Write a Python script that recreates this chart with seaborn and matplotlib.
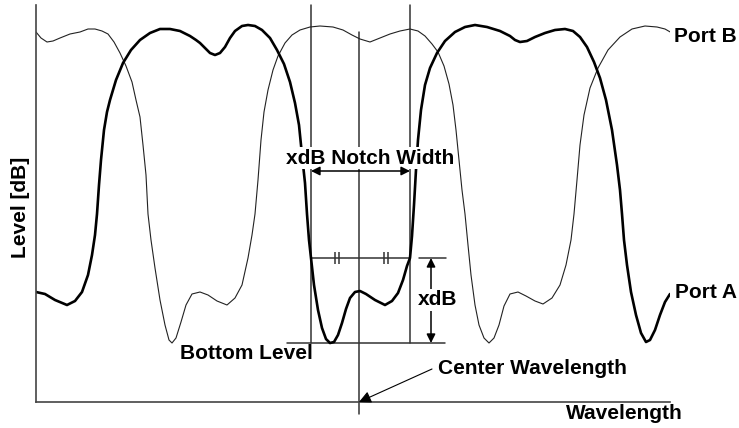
import matplotlib
matplotlib.use("Agg")
import matplotlib.pyplot as plt
import seaborn as sns
import pandas as pd

# schematic traces: wavelength (arb. units) and level (dB)
port_a_wl = [3.6, 4.5, 5.5, 6.7, 7.5, 8.2, 8.8, 9.2, 9.5, 9.7,
             9.9, 10.1, 10.4, 10.7, 11.0, 11.6, 12.3, 13.1, 14.0, 15.0,
             16.0, 17.0, 18.0, 19.0, 19.6, 20.0, 20.5, 21.0, 21.5, 22.0,
             22.5, 23.0, 23.5, 24.2, 24.8, 25.5, 26.2, 27.0, 27.7, 28.4,
             29.0, 29.5, 29.9, 30.2, 30.5, 30.7, 30.9, 31.1, 31.4, 31.8,
             32.2, 32.6, 33.0, 33.4, 33.8, 34.2, 34.6, 35.0, 35.5, 36.0,
             36.6, 37.5, 38.5, 39.2, 39.8, 40.3, 40.7, 41.0, 41.2, 41.4,
             41.6, 41.8, 42.1, 42.5, 43.0, 43.7, 44.5, 45.5, 46.5, 47.5,
             48.7, 50.0, 51.0, 51.5, 52.0, 52.7, 53.5, 54.5, 55.5, 56.5,
             57.3, 58.0, 58.7, 59.4, 60.0, 60.6, 61.2, 61.7, 62.0, 62.2,
             62.4, 62.7, 63.1, 63.6, 64.1, 64.6, 65.0, 65.5, 66.0, 66.5,
             67.0]
port_a_level = [-29.2, -29.4, -30.0, -30.5, -30.1, -29.2, -27.5, -25.5, -23.5, -21.4,
                -18.5, -16.0, -13.0, -11.2, -10.0, -8.0, -6.3, -5.0, -4.0, -3.3,
                -2.9, -2.9, -3.1, -3.6, -4.0, -4.3, -4.8, -5.3, -5.5, -5.3,
                -4.7, -3.8, -3.1, -2.6, -2.5, -2.6, -3.0, -3.8, -5.0, -6.4,
                -8.2, -10.3, -12.5, -15.5, -18.3, -21.4, -24.0, -25.8, -28.5, -31.0,
                -32.8, -33.9, -34.3, -34.2, -33.5, -32.3, -30.9, -29.8, -29.2, -29.1,
                -29.4, -30.0, -30.5, -30.1, -29.3, -28.0, -26.6, -25.8, -23.6, -20.5,
                -17.0, -14.0, -11.0, -8.5, -6.8, -5.3, -4.1, -3.2, -2.7, -2.5,
                -2.7, -3.1, -3.6, -4.0, -4.2, -4.1, -3.7, -3.3, -3.0, -2.9,
                -3.1, -3.7, -4.7, -6.2, -7.8, -10.0, -13.0, -16.5, -19.0, -21.4,
                -24.0, -26.5, -29.2, -31.5, -33.3, -34.2, -34.0, -33.0, -31.5, -30.2,
                -29.4]

port_b_wl = [3.6, 4.1, 4.7, 5.3, 6.0, 7.0, 8.0, 8.8, 9.5, 10.2,
             10.8, 11.4, 12.0, 12.6, 13.2, 13.6, 14.0, 14.3, 14.6, 14.8,
             15.1, 15.5, 16.0, 16.5, 16.9, 17.2, 17.6, 18.1, 18.6, 19.2,
             20.0, 20.8, 21.7, 22.7, 23.5, 24.2, 24.8, 25.2, 25.5, 25.8,
             26.1, 26.4, 26.8, 27.3, 27.8, 28.5, 29.2, 30.0, 31.0, 32.0,
             33.3, 34.3, 35.2, 36.0, 37.0, 38.0, 39.0, 40.0, 41.0, 41.8,
             42.5, 43.2, 43.8, 44.4, 44.9, 45.3, 45.6, 45.9, 46.2, 46.5,
             46.8, 47.1, 47.5, 47.9, 48.4, 48.9, 49.4, 49.9, 50.4, 51.0,
             51.8, 52.6, 53.5, 54.3, 55.2, 56.0, 56.6, 57.1, 57.4, 57.7,
             58.0, 58.4, 59.0, 59.8, 60.8, 62.0, 63.2, 64.5, 65.7, 66.5,
             67.2]
port_b_level = [-3.2, -3.8, -4.2, -4.1, -3.8, -3.4, -3.2, -2.9, -2.9, -3.1,
                -3.4, -4.2, -5.3, -6.6, -8.2, -10.0, -11.7, -14.5, -17.5, -21.4,
                -24.0, -26.8, -30.0, -32.5, -34.0, -34.3, -33.8, -32.2, -30.5, -29.4,
                -29.2, -29.5, -30.1, -30.5, -29.8, -28.5, -25.8, -23.5, -21.4, -18.0,
                -14.0, -11.2, -9.0, -7.0, -5.6, -4.3, -3.5, -3.0, -2.7, -2.6,
                -2.7, -3.0, -3.5, -3.9, -4.2, -3.8, -3.4, -3.1, -2.9, -3.1,
                -3.6, -4.4, -5.2, -6.6, -8.4, -10.5, -13.0, -16.0, -19.0, -21.4,
                -24.5, -27.5, -30.5, -32.5, -33.8, -34.3, -33.8, -32.5, -30.6, -29.4,
                -29.2, -29.6, -30.1, -30.4, -29.8, -28.5, -26.5, -24.0, -21.4, -18.0,
                -14.5, -11.5, -8.8, -6.8, -5.0, -3.7, -2.9, -2.6, -2.7, -2.9,
                -3.3]

# notch markers
bottom_level = -34.3
xdb_level = -25.8
notch_left = 31.1
notch_right = 41.0
center_wl = 35.9

sns.set_style("white")
plt.rcParams["font.family"] = ["Liberation Sans", "DejaVu Sans"]
plt.rcParams["font.weight"] = "bold"
plt.rcParams["text.color"] = "black"

fig = plt.figure(figsize=(7.39, 4.28), dpi=100)
ax = fig.add_axes([36 / 739, 26 / 428, 634 / 739, 397 / 428])

df_a = pd.DataFrame({"wl": port_a_wl, "level": port_a_level})
df_b = pd.DataFrame({"wl": port_b_wl, "level": port_b_level})
sns.lineplot(data=df_b, x="wl", y="level", ax=ax, color="#222222", lw=0.8,
             sort=False, estimator=None, zorder=2)
sns.lineplot(data=df_a, x="wl", y="level", ax=ax, color="black", lw=1.9,
             sort=False, estimator=None, zorder=2)

ax.set_xlim(3.6, 67.0)
ax.set_ylim(-40.2, -0.5)
ax.set_xticks([])
ax.set_yticks([])
ax.set_xlabel("")
ax.set_ylabel("")
sns.despine(ax=ax)
for s in ["left", "bottom"]:
    ax.spines[s].set_color("#444444")
    ax.spines[s].set_linewidth(1.2)

guide = dict(color="#333333", lw=1.1, zorder=1, clip_on=False)
ax.plot([notch_left, notch_left], [bottom_level, -0.5], **guide)
ax.plot([notch_right, notch_right], [bottom_level, -0.5], **guide)
ax.plot([center_wl, center_wl], [-41.4, -3.2], **guide)
ax.plot([28.7, 44.5], [bottom_level, bottom_level], **guide)
ax.plot([notch_left, notch_right], [xdb_level, xdb_level], **guide)
ax.plot([41.9, 44.6], [xdb_level, xdb_level], **guide)

# equal-length tick marks on the xdB line
for tx in [33.7, 38.6]:
    ax.plot([tx - 0.18, tx + 0.18], [xdb_level, xdb_level], ls="none",
            marker="|", ms=9, mew=1.1, color="#333333", zorder=2)

ax.annotate("", xy=(notch_left, -17.1), xytext=(notch_right, -17.1),
            arrowprops=dict(arrowstyle="<|-|>", color="black", lw=1.1,
                            mutation_scale=13, shrinkA=0, shrinkB=0), zorder=4)
ax.annotate("", xy=(43.1, xdb_level), xytext=(43.1, bottom_level),
            arrowprops=dict(arrowstyle="<|-|>", color="black", lw=1.1,
                            mutation_scale=13, shrinkA=0, shrinkB=0), zorder=1)
ax.annotate("", xy=(center_wl, -40.2), xytext=(43.2, -36.9),
            arrowprops=dict(arrowstyle="-|>", color="black", lw=0.8,
                            mutation_scale=18, shrinkA=0, shrinkB=0),
            annotation_clip=False)

box = dict(facecolor="white", edgecolor="none", pad=1.0)
fs = 15
ax.text(37.0, -15.8, "xdB Notch Width", ha="center", va="center",
        fontsize=fs, fontweight="bold", bbox=box, zorder=3)
ax.text(43.8, -30.0, "xdB", ha="center", va="center",
        fontsize=fs, fontweight="bold", bbox=box, zorder=3)
ax.text(24.6, -35.4, "Bottom Level", ha="center", va="center",
        fontsize=fs, fontweight="bold", zorder=3)
ax.text(43.8, -36.9, "Center Wavelength", ha="left", va="center",
        fontsize=fs, fontweight="bold", zorder=3)
ax.text(68.3, -41.4, "Wavelength", ha="right", va="center",
        fontsize=fs, fontweight="bold", clip_on=False)
ax.text(67.4, -3.6, "Port B", ha="left", va="center",
        fontsize=fs, fontweight="bold", clip_on=False)
ax.text(67.5, -29.3, "Port A", ha="left", va="center",
        fontsize=fs, fontweight="bold", clip_on=False)
fig.text(21 / 739, 1 - 207 / 428, "Level [dB]", rotation=90, ha="center",
         va="center", fontsize=fs, fontweight="bold")

fig.savefig("out.png", dpi=100)
